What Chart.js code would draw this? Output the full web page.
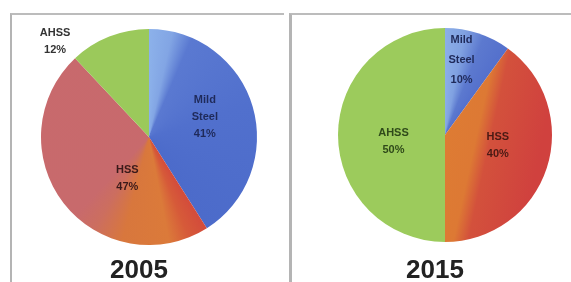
<!DOCTYPE html>
<html>
<head>
<meta charset="utf-8">
<script src="https://cdn.jsdelivr.net/npm/chart.js@4"></script>
<style>
  body { margin: 0; background: #fff; width: 571px; height: 282px; overflow: hidden; position: relative; font-family: "Liberation Sans", Arial, sans-serif; }
  .panel { position: absolute; top: 13px; bottom: -10px; border-top: 2px solid #bcbcbc; border-left: 2px solid #b4b4b4; background: #fff; }
  #p1 { left: 10px; width: 272px; }
  #p2 { left: 289px; width: 290px; border-left-width: 3px; }
  .cv { position: absolute; }
  .year { position: absolute; top: 256px; font-size: 26px; line-height: 26px; font-weight: bold; color: #222; width: 120px; text-align: center; }
</style>
</head>
<body>
<div class="panel" id="p1"></div>
<div class="panel" id="p2"></div>
<div class="cv" style="left:12px;top:15px;width:270px;height:240px"><canvas id="c2005"></canvas></div>
<div class="cv" style="left:292px;top:15px;width:279px;height:240px"><canvas id="c2015"></canvas></div>
<div class="year" style="left:79px">2005</div>
<div class="year" style="left:375px">2015</div>
<script>
const categories = ["Mild Steel", "HSS", "AHSS"];
const labelLines2005 = [["Mild", "Steel", "41%"], ["HSS", "47%"], ["AHSS", "12%"]];
const labelLines2015 = [["Mild", "Steel", "10%"], ["HSS", "40%"], ["AHSS", "50%"]];
const share2005 = [41, 47, 12];
const share2015 = [10, 40, 50];

// label nudges from the slice mid point
const labelShift2005 = [[4, -5], [21, 8], [-74, -45]];
const labelShift2015 = [[0, -24], [2, -6], [2, 6]];

function conic(ctx, area, stops) {
  const cx = (area.left + area.right) / 2, cy = (area.top + area.bottom) / 2;
  const g = ctx.createConicGradient(-Math.PI / 2, cx, cy);
  stops.forEach(s => g.addColorStop(s[0], s[1]));
  return g;
}

const fills2005 = [
  (ctx, a) => conic(ctx, a, [[0, "#8cb1ea"], [0.035, "#82a5e4"], [0.065, "#5a79d1"], [0.2, "#5170cd"], [0.41, "#4c6bca"], [1, "#4c6bca"]]),
  (ctx, a) => conic(ctx, a, [[0, "#d2463c"], [0.40, "#d2463c"], [0.44, "#d65a39"], [0.47, "#db7a3a"], [0.54, "#d8773d"], [0.585, "#cc6e5f"], [0.62, "#c86a6c"], [1, "#c8696d"]]),
  () => "#9bc95b"
];
const fills2015 = [
  (ctx, a) => conic(ctx, a, [[0, "#8baee8"], [0.03, "#80a1e1"], [0.06, "#5c79cf"], [0.1, "#5470cc"], [1, "#5470cc"]]),
  (ctx, a) => {
    const w = a.right - a.left;
    const x0 = a.left + 0.0 * w - 18 + (a.right - a.left) * 0.5 - w * 0.5;
    const cx = (a.left + a.right) / 2, cy = (a.top + a.bottom) / 2;
    const g = ctx.createLinearGradient(cx - 5, cy - 5, cx + 95, cy + 17);
    g.addColorStop(0, "#de7c33");
    g.addColorStop(0.36, "#dd7934");
    g.addColorStop(0.5, "#d3513c");
    g.addColorStop(1, "#d0413e");
    return g;
  },
  () => "#9ccb5c"
];

const sliceLabels = {
  id: "sliceLabels",
  afterDatasetsDraw(chart, args, opts) {
    const ctx = chart.ctx;
    const arcs = chart.getDatasetMeta(0).data;
    ctx.save();
    ctx.font = "bold 11px 'Liberation Sans', Arial, sans-serif";
    ctx.textAlign = "center";
    ctx.textBaseline = "middle";
    arcs.forEach((arc, i) => {
      const p = arc.tooltipPosition();
      const lines = opts.lines[i];
      const x = p.x + opts.shift[i][0], y = p.y + opts.shift[i][1];
      const lh = lines.length > 2 ? opts.lh3 : 17;
      const start = y - (lines.length - 1) * lh / 2;
      ctx.fillStyle = opts.colors[i];
      lines.forEach((t, k) => ctx.fillText(t, x, start + k * lh));
    });
    ctx.restore();
  }
};

function makePie(id, values, fills, lines, shift, pad, colors, lh3) {
  new Chart(document.getElementById(id), {
    type: "pie",
    data: {
      labels: categories,
      datasets: [{
        data: values,
        borderWidth: 0,
        backgroundColor: (c) => {
          const a = c.chart.chartArea;
          if (!a) return "#888";
          return fills[c.dataIndex](c.chart.ctx, a);
        }
      }]
    },
    options: {
      responsive: true,
      maintainAspectRatio: false,
      animation: false,
      layout: { padding: pad },
      plugins: {
        legend: { display: false },
        tooltip: { enabled: false },
        sliceLabels: { lines: lines, shift: shift, colors: colors, lh3: lh3 }
      }
    },
    plugins: [sliceLabels]
  });
}

makePie("c2005", share2005, fills2005, labelLines2005, labelShift2005,
  { left: 29, right: 25, top: 14, bottom: 10 }, ["#1f2a5a", "#3a1a1a", "#333"], 17);
makePie("c2015", share2015, fills2015, labelLines2015, labelShift2015,
  { left: 46, right: 19, top: 13, bottom: 13 }, ["#1f2a5a", "#4a1a14", "#2f4a1a"], 20);
</script>
</body>
</html>
